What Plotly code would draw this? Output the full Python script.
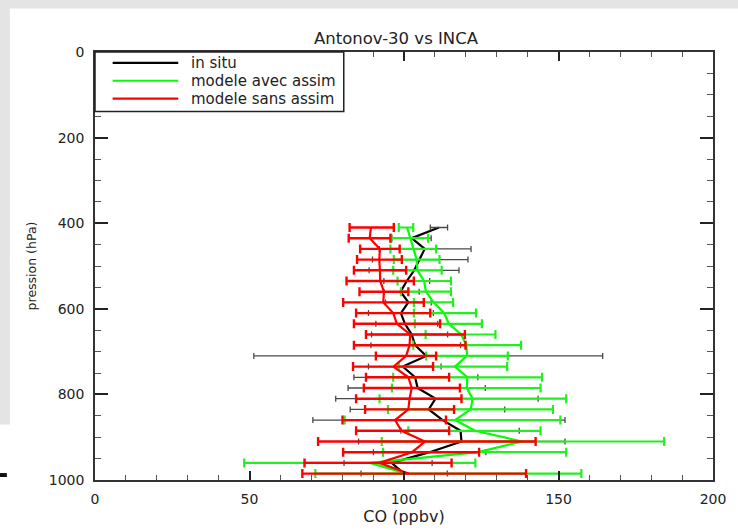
import plotly.graph_objects as go

# Pressure levels of the profile (hPa)
pressure = [410, 435, 460, 485, 510, 535, 560, 585, 610, 635, 660, 685,
            710, 735, 760, 785, 810, 835, 860, 885, 910, 935, 960, 985]

# In situ CO (ppbv): mean and spread bounds
insitu_mean = [111.3, 102.5, 106.7, 105.1, 103.3, 100.9, 98.9, 101.4, 99.0, 100.3, 102.5, 103.6,
               107.2, 99.6, 103.6, 104.4, 110.2, 108.0, 112.5, 118.3, 118.6, 108.3, 96.0, 100.0]
insitu_low = [108.5, 96.1, 92.0, 89.8, 88.7, 93.5, 93.5, 94.0, 88.5, 90.9, 89.5, 89.3,
              51.4, 88.5, 83.8, 81.9, 77.9, 82.6, 70.5, 99.0, 85.3, 90.1, 80.6, 86.1]
insitu_high = [114.1, 108.8, 121.7, 120.7, 117.8, 108.3, 104.9, 108.8, 109.5, 110.9, 114.1, 118.3,
               164.3, 112.0, 123.9, 126.3, 143.4, 132.6, 152.1, 137.3, 152.1, 126.5, 109.1, 114.0]

# Model with assimilation
assim_mean = [101.0, 102.0, 103.0, 104.1, 104.3, 106.5, 107.1, 109.6, 113.0, 114.5, 118.5, 120.2,
              120.4, 116.5, 120.5, 120.3, 122.2, 121.6, 116.5, 123.0, 138.2, 124.0, 89.0, 101.0]
assim_low = [98.3, 95.9, 95.6, 96.7, 96.5, 97.9, 99.0, 103.2, 103.2, 103.5, 107.0, 103.0,
             107.2, 98.3, 96.5, 96.1, 92.1, 94.8, 80.8, 101.4, 92.8, 93.2, 48.3, 71.3]
assim_high = [103.0, 107.8, 110.4, 111.5, 112.2, 115.2, 115.2, 115.9, 123.3, 125.2, 129.6, 137.9,
              133.6, 133.4, 144.7, 144.2, 152.5, 148.2, 150.6, 144.2, 184.2, 152.5, 123.1, 157.4]

# Model without assimilation
free_mean = [89.3, 88.9, 92.2, 92.0, 92.2, 92.3, 93.5, 93.3, 96.5, 97.7, 102.0, 101.8,
             100.7, 96.6, 101.4, 102.5, 101.8, 101.4, 97.1, 99.2, 106.8, 102.6, 92.0, 101.5]
free_low = [82.4, 82.1, 85.8, 84.8, 83.8, 81.4, 85.6, 80.3, 84.5, 83.8, 87.7, 83.8,
            90.9, 83.5, 87.7, 87.0, 84.5, 87.4, 80.1, 84.5, 72.2, 80.3, 67.8, 67.1]
free_high = [96.7, 95.6, 98.6, 99.3, 100.7, 103.2, 101.4, 106.4, 108.5, 111.7, 119.7, 119.9,
             110.4, 109.4, 114.6, 118.1, 118.6, 116.2, 113.6, 114.6, 142.6, 124.3, 115.4, 139.5]

series_names = ["in situ", "modele avec assim", "modele sans assim"]
series_colors = ["#000000", "#00ff00", "#ff0000"]

FONT = "DejaVu Sans"
fig = go.Figure()


def add_profile(mean, low, high, color, bar_color, bar_thick, cap):
    fig.add_trace(go.Scatter(
        x=mean, y=pressure, mode="lines",
        line=dict(color=color, width=2.2),
        showlegend=False, hoverinfo="skip"))
    fig.add_trace(go.Scatter(
        x=mean, y=pressure, mode="markers",
        marker=dict(size=1, color="rgba(0,0,0,0)"),
        error_x=dict(type="data", symmetric=False,
                     array=[h - m for h, m in zip(high, mean)],
                     arrayminus=[m - l for m, l in zip(mean, low)],
                     color=bar_color, thickness=bar_thick, width=cap),
        showlegend=False, hoverinfo="skip"))


add_profile(insitu_mean, insitu_low, insitu_high, series_colors[0], "#4a4a4a", 1.3, 3)
add_profile(assim_mean, assim_low, assim_high, series_colors[1], "#22ee22", 2.2, 4.5)
add_profile(free_mean, free_low, free_high, series_colors[2], "#ff0000", 2.4, 4.5)

# figure box and plot margins (px)
W, H, L, T, B, R = 738, 532, 95, 52, 48, 12
pw, ph = W - L - R, H - T - B


def px_x(px):
    return (px - L) / pw


def px_y(py):
    return (H - B - py) / ph


shapes = [
    dict(type="rect", xref="paper", yref="paper", x0=px_x(-5), x1=px_x(W + 20), y0=px_y(8), y1=px_y(-5),
         fillcolor="#e4e4e4", line=dict(width=0), layer="below"),
    dict(type="rect", xref="paper", yref="paper", x0=px_x(-5), x1=px_x(8), y0=px_y(428), y1=px_y(0),
         fillcolor="#e4e4e4", line=dict(width=0), layer="below"),
    dict(type="rect", xref="paper", yref="paper", x0=px_x(-5), x1=px_x(5), y0=px_y(481), y1=px_y(477),
         fillcolor="#111111", line=dict(width=0), layer="below"),
    # legend box
    dict(type="rect", xref="paper", yref="paper", x0=px_x(95), x1=px_x(349), y0=px_y(112), y1=px_y(52),
         fillcolor="white", line=dict(color="#222222", width=1.5), layer="above"),
]
annotations = []
legend_rows = [63, 81, 99]
for name, color, row in zip(series_names, series_colors, legend_rows):
    shapes.append(dict(type="line", xref="paper", yref="paper",
                       x0=px_x(113), x1=px_x(180), y0=px_y(row), y1=px_y(row),
                       line=dict(color=color, width=2.2), layer="above"))
    annotations.append(dict(xref="paper", yref="paper", x=px_x(191), y=px_y(row),
                            xanchor="left", yanchor="middle", showarrow=False, text=name,
                            font=dict(family=FONT, size=15, color="#222222")))

fig.update_layout(
    width=W, height=H, autosize=False,
    margin=dict(l=L, r=R, t=T, b=B, pad=0),
    paper_bgcolor="white", plot_bgcolor="white",
    showlegend=False,
    title=dict(text="Antonov-30 vs INCA", x=396 / W, xref="container", xanchor="center",
               y=1 - 38 / H, yref="container", yanchor="middle",
               font=dict(family=FONT, size=16.5, color="#222222")),
    shapes=shapes, annotations=annotations,
    font=dict(family=FONT, color="#222222"),
)

fig.update_xaxes(
    range=[0, 200], tick0=0, dtick=50, ticks="inside", ticklen=9, tickwidth=1.6,
    tickcolor="#222222", showline=True, linecolor="#333333", linewidth=1.6,
    mirror="allticks", showgrid=False, zeroline=False,
    minor=dict(dtick=10, ticks="inside", ticklen=5, tickwidth=1, tickcolor="#555555"),
    tickfont=dict(family=FONT, size=14, color="#222222"), ticklabelstandoff=5,
    title=dict(text="CO (ppbv)", font=dict(family=FONT, size=16, color="#222222"), standoff=2),
)
fig.update_yaxes(
    range=[1000, 0], tick0=0, dtick=200, ticks="inside", ticklen=13, tickwidth=1.6,
    tickcolor="#222222", showline=True, linecolor="#333333", linewidth=1.6,
    mirror="allticks", showgrid=False, zeroline=False,
    minor=dict(dtick=50, ticks="inside", ticklen=6, tickwidth=1, tickcolor="#555555"),
    tickfont=dict(family=FONT, size=14, color="#222222"), ticklabelstandoff=6,
    title=dict(text="pression (hPa)", font=dict(family=FONT, size=12.5, color="#222222"), standoff=9),
)

fig.write_html(
    "out.html",
    post_script="document.documentElement.style.overflow='hidden';document.body.style.margin='0';",
)
